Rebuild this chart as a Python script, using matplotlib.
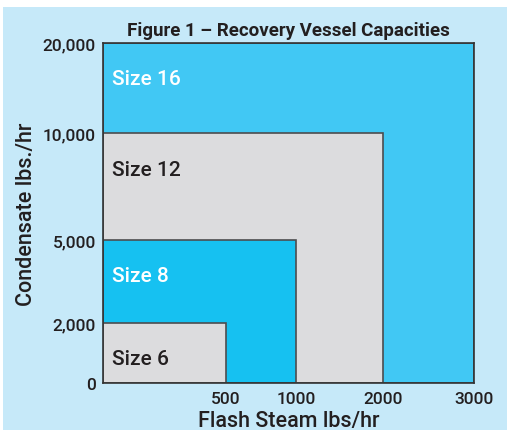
import numpy as np
import matplotlib
matplotlib.use("Agg")
import matplotlib.pyplot as plt
from matplotlib.patches import Rectangle

# vessel sizes: (label, max flash steam lbs/hr, max condensate lbs/hr)
sizes = ["Size 16", "Size 12", "Size 8", "Size 6"]
steam_max = [3000, 2000, 1000, 500]
cond_max = [20000, 10000, 5000, 2000]
fills = ["#41c8f4", "#dcdcde", "#16c1f1", "#dcdcde"]
text_cols = ["white", "#231f20", "white", "#231f20"]

x_ticks = [500, 1000, 2000, 3000]
y_ticks = [0, 2000, 5000, 10000, 20000]
y_ticklabels = ["0", "2,000", "5,000", "10,000", "20,000"]

# the chart uses an uneven scale on both axes
x_vals = [0, 500, 1000, 2000, 3000]
x_pos = [0, 123, 193, 280, 371]
y_vals = [0, 2000, 5000, 10000, 20000]
y_pos = [0, 60, 143, 250, 340]

def fx(v):
    return np.interp(v, x_vals, x_pos)
def fx_inv(p):
    return np.interp(p, x_pos, x_vals)
def fy(v):
    return np.interp(v, y_vals, y_pos)
def fy_inv(p):
    return np.interp(p, y_pos, y_vals)

bg = "#c6e9f9"
dark = "#231f20"

fig = plt.figure(figsize=(5.07, 4.31), dpi=100)
fig.patches.append(Rectangle((3 / 507, 0), 1, 1 - 8 / 431, transform=fig.transFigure,
                             facecolor=bg, edgecolor="none", zorder=-10))

ax = fig.add_axes([103 / 507, 47 / 431, 371 / 507, 340 / 431])
ax.set_xscale("function", functions=(fx, fx_inv))
ax.set_yscale("function", functions=(fy, fy_inv))
ax.set_xlim(0, 3000)
ax.set_ylim(0, 20000)

for lab, sx, cy, fc, tc in zip(sizes, steam_max, cond_max, fills, text_cols):
    ax.add_patch(Rectangle((0, 0), sx, cy, facecolor=fc, edgecolor="#4d4d4f", linewidth=1.2))

label_y = [16000, 8300, 3730, 830]
for lab, ly, tc in zip(sizes, label_y, text_cols):
    ax.text(37, ly, lab, color=tc, fontsize=15, fontweight="medium",
            family="Roboto", va="center", ha="left")

ax.set_xticks(x_ticks)
ax.set_xticklabels([str(v) for v in x_ticks])
ax.set_yticks(y_ticks)
ax.set_yticklabels(y_ticklabels)
ax.tick_params(length=0, labelsize=12.5, colors=dark, pad=5)
for t in ax.get_xticklabels() + ax.get_yticklabels():
    t.set_fontfamily("Roboto")
    t.set_fontweight("medium")
ax.tick_params(axis="x", pad=6)
for sp in ax.spines.values():
    sp.set_color("#333333")
    sp.set_linewidth(1.2)

ax.set_xlabel("Flash Steam lbs/hr", fontsize=15.5, fontweight="medium",
              family="Roboto", color=dark, labelpad=3)
ax.set_ylabel("Condensate lbs./hr", fontsize=15.5, fontweight="medium",
              family="Roboto", color=dark, labelpad=4)
ax.set_title("Figure 1 \u2013 Recovery Vessel Capacities", fontsize=13.5, fontweight="bold",
             family="Roboto", color=dark, pad=6)

fig.savefig("out.png", dpi=100)
